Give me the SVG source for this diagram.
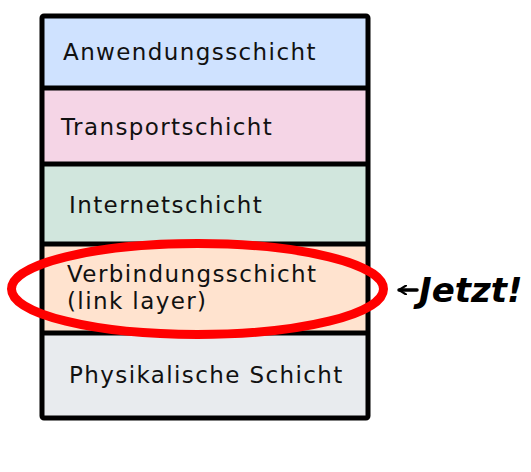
<svg xmlns="http://www.w3.org/2000/svg" width="531" height="472" viewBox="0 0 531 472">
<style>
.lbl{font-family:"DejaVu Sans","Noto Sans",sans-serif;font-size:23px;letter-spacing:1.4px;fill:#111}
.div{stroke:#000;stroke-width:5}
.hand{font-family:"DejaVu Sans",sans-serif;font-weight:bold;font-style:italic;font-size:34px;fill:#000}
</style>
<defs>
<marker id="ah" viewBox="0 0 10 10" refX="8" refY="5" markerWidth="3" markerHeight="3" orient="auto">
<path d="M1,0.5 L8,5 L1,9.5" fill="none" stroke="#000" stroke-width="2" stroke-linecap="round" stroke-linejoin="round"/>
</marker>
</defs>
<rect width="531" height="472" fill="#fff"/>
<g id="anwendung"><rect x="42" y="16" width="326" height="72" fill="#cfe2ff"/><text class="lbl" x="63" y="60">Anwendungsschicht</text></g>
<g id="transport"><rect x="42" y="88" width="326" height="76" fill="#f5d5e6"/><text class="lbl" x="61" y="135">Transportschicht</text></g>
<g id="internet"><rect x="42" y="164" width="326" height="80" fill="#d1e6dd"/><text class="lbl" x="69" y="213">Internetschicht</text></g>
<g id="verbindung"><rect x="42" y="244" width="326" height="89" fill="#ffe3cf"/><text class="lbl" x="67" y="282">Verbindungsschicht</text><text class="lbl" x="67" y="309">(link layer)</text></g>
<g id="physikalisch"><rect x="42" y="333" width="326" height="85" fill="#e8ebee"/><text class="lbl" x="69" y="383">Physikalische Schicht</text></g>
<g id="frame">
<rect x="42" y="16" width="326" height="402" rx="2" fill="none" stroke="#000" stroke-width="5"/>
<line class="div" x1="42" y1="88" x2="368" y2="88"/>
<line class="div" x1="42" y1="164" x2="368" y2="164"/>
<line class="div" x1="42" y1="244" x2="368" y2="244"/>
<line class="div" x1="42" y1="333" x2="368" y2="333"/>
</g>
<g id="highlight"><ellipse cx="197.5" cy="289" rx="186" ry="45.5" fill="none" stroke="#ff0000" stroke-width="9"/></g>
<g id="connectors"><path d="M417,290 L399,290" fill="none" stroke="#000" stroke-width="3.5" stroke-linecap="round" marker-end="url(#ah)"/></g>
<g id="note"><text class="hand" x="419" y="302">Jetzt!</text></g>
</svg>
